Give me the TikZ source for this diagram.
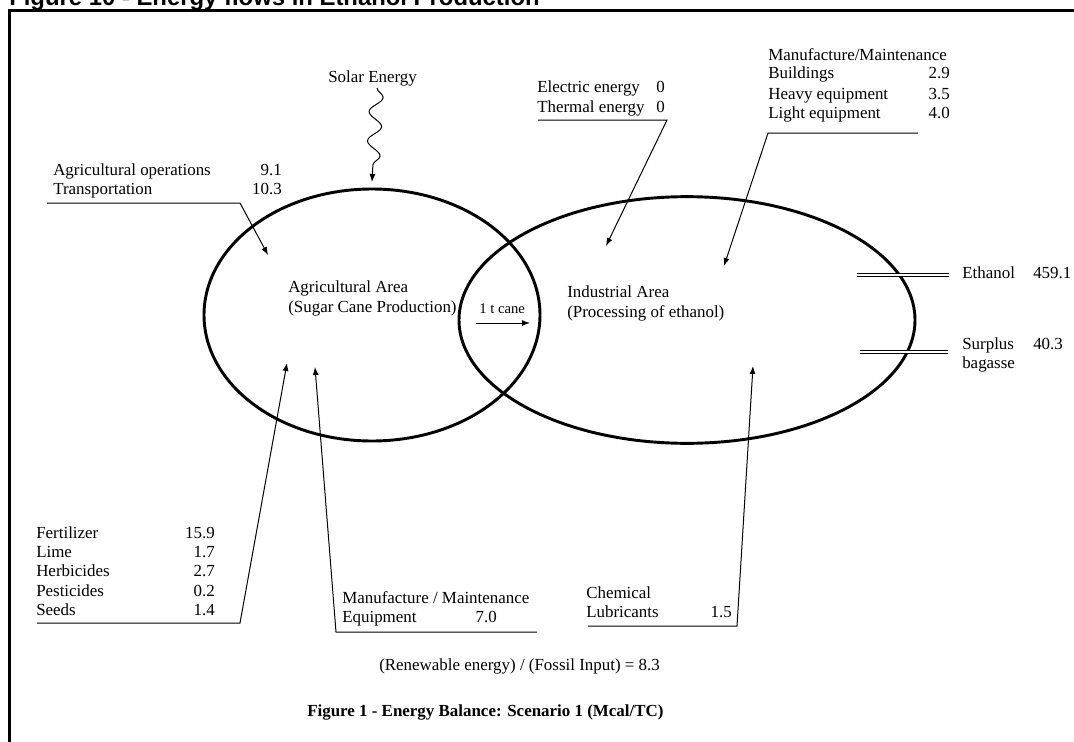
\documentclass[tikz,border=0pt]{standalone}
\usepackage{fontspec}
\setmainfont{Liberation Serif}
\newfontfamily\headfont{Liberation Sans}
\usetikzlibrary{arrows.meta,decorations.pathmorphing,shapes.geometric}
\tikzset{
	txt/.style={anchor=base west, inner sep=0pt, font=\fontsize{12.7}{14.6}\selectfont},
	num/.style={anchor=base east, inner sep=0pt, font=\fontsize{12.7}{14.6}\selectfont},
	area/.style={draw=black, ellipse, line width=2.2pt, inner sep=0pt},
	lead/.style={line width=0.75pt, -{Latex[length=6pt,width=4.5pt]}},
	flowout/.style={double, double distance=1.6pt, line width=0.6pt}
}
\begin{document}
\begin{tikzpicture}[x=0.75pt,y=-0.75pt]
	\useasboundingbox (0,0) rectangle (1074,742);
	\node[anchor=base west, inner sep=0pt, font=\headfont\bfseries\fontsize{17.9}{20}\selectfont] (title) at (9,5.5) {Figure 10 - Energy flows in Ethanol Production};
	\coordinate (frame bottom) at (9.5,760);
	\coordinate (frame corner) at (9.5,10.5);
	\coordinate (frame right) at (1090,10.5);
	\draw[black, line width=2.25pt] (frame bottom) -- (frame corner) -- (frame right);
	\node[area, minimum width=252pt, minimum height=189pt] (agri) at (372,315) {};
	\node[area, minimum width=342pt, minimum height=185pt] (indus) at (687,320) {};
	\node[txt] (agri name) at (288,292) {Agricultural Area};
	\node[txt] (agri sub) at (288,312) {(Sugar Cane Production)};
	\node[txt, font=\fontsize{11}{13}\selectfont] (cane) at (479,313) {1 t cane};
	\coordinate (cane from) at (476,323);
	\coordinate (cane to) at (530,323);
	\draw[lead] (cane from) -- (cane to);
	\node[txt] (indus name) at (567,297) {Industrial Area};
	\node[txt] (indus sub) at (567,317) {(Processing of ethanol)};
	\node[txt] (solar) at (328,83) {Solar Energy};
	\coordinate (solar top) at (377,88);
	\coordinate (solar tip) at (372,182);
	\draw[lead, decorate, decoration={snake, amplitude=5pt, segment length=22pt, post length=7pt}] (solar top) -- (solar tip);
	\node[txt] (ops a) at (53,175) {Agricultural operations};
	\node[num] (ops a val) at (282,175) {9.1};
	\node[txt] (ops b) at (53,194) {Transportation};
	\node[num] (ops b val) at (282,194) {10.3};
	\coordinate (ops start) at (47,203);
	\coordinate (ops bend) at (240,203);
	\coordinate (ops tip) at (268,255);
	\draw[lead] (ops start) -- (ops bend) -- (ops tip);
	\node[txt] (elec) at (537,93) {Electric energy};
	\node[num] (elec val) at (665,93) {0};
	\node[txt] (therm) at (537,113) {Thermal energy};
	\node[num] (therm val) at (665,113) {0};
	\coordinate (elec start) at (538,120);
	\coordinate (elec bend) at (667,120);
	\coordinate (elec tip) at (606,246);
	\draw[lead] (elec start) -- (elec bend) -- (elec tip);
	\node[txt] (build head) at (768,61) {Manufacture/Maintenance};
	\node[txt] (build) at (768,79) {Buildings};
	\node[num] (build val) at (950,79) {2.9};
	\node[txt] (heavy) at (768,99) {Heavy equipment};
	\node[num] (heavy val) at (950,99) {3.5};
	\node[txt] (light) at (768,118) {Light equipment};
	\node[num] (light val) at (950,118) {4.0};
	\coordinate (build start) at (918,133);
	\coordinate (build bend) at (768,133);
	\coordinate (build tip) at (724,266);
	\draw[lead] (build start) -- (build bend) -- (build tip);
	\coordinate (eth in) at (857,275);
	\coordinate (eth out) at (949,275);
	\draw[flowout] (eth in) -- (eth out);
	\node[txt] (ethanol) at (962,278) {Ethanol};
	\node[txt] (ethanol val) at (1033,278) {459.1};
	\coordinate (bag in) at (860,352);
	\coordinate (bag out) at (948,352);
	\draw[flowout] (bag in) -- (bag out);
	\node[txt] (surplus) at (962,349) {Surplus};
	\node[txt] (bagasse) at (962,368) {bagasse};
	\node[txt] (surplus val) at (1033,349) {40.3};
	\node[txt] (fert) at (36,538) {Fertilizer};
	\node[num] (fert val) at (215,538) {15.9};
	\node[txt] (lime) at (36,557) {Lime};
	\node[num] (lime val) at (215,557) {1.7};
	\node[txt] (herb) at (36,576) {Herbicides};
	\node[num] (herb val) at (215,576) {2.7};
	\node[txt] (pest) at (36,596) {Pesticides};
	\node[num] (pest val) at (215,596) {0.2};
	\node[txt] (seeds) at (36,615) {Seeds};
	\node[num] (seeds val) at (215,615) {1.4};
	\coordinate (fert start) at (37,623);
	\coordinate (fert bend) at (240,623);
	\coordinate (fert tip) at (287,363);
	\draw[lead] (fert start) -- (fert bend) -- (fert tip);
	\node[txt] (equip head) at (342,603) {Manufacture / Maintenance};
	\node[txt] (equip) at (342,622) {Equipment};
	\node[num] (equip val) at (497,622) {7.0};
	\coordinate (equip start) at (537,632);
	\coordinate (equip bend) at (336,632);
	\coordinate (equip tip) at (315,367);
	\draw[lead] (equip start) -- (equip bend) -- (equip tip);
	\node[txt] (chem) at (586,598) {Chemical};
	\node[txt] (lubr) at (586,617) {Lubricants};
	\node[num] (lubr val) at (732,617) {1.5};
	\coordinate (lubr start) at (588,626);
	\coordinate (lubr bend) at (737,626);
	\coordinate (lubr tip) at (753,366);
	\draw[lead] (lubr start) -- (lubr bend) -- (lubr tip);
	\node[txt] (ratio) at (379,670) {(Renewable energy) / (Fossil Input) = 8.3};
	\node[txt, font=\bfseries\fontsize{12.7}{14.6}\selectfont] (caption) at (307,716) {Figure 1 - Energy Balance: Scenario 1 (Mcal/TC)};
\end{tikzpicture}
\end{document}
